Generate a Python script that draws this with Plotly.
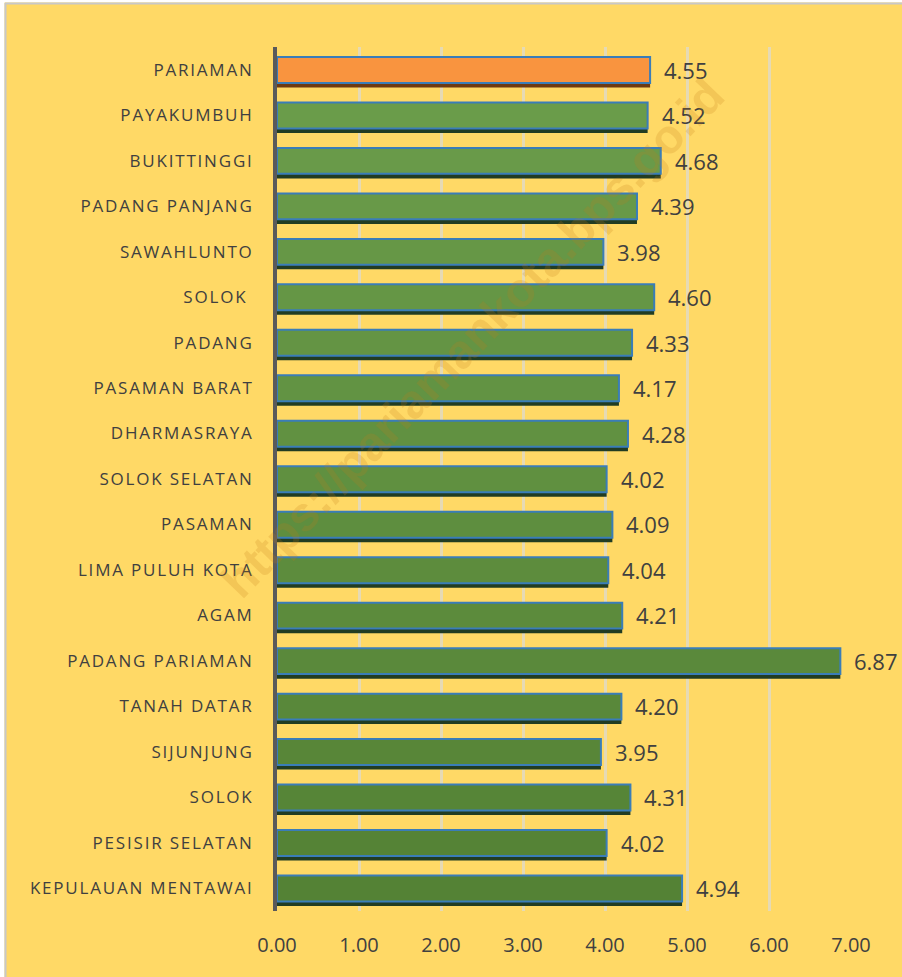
import plotly.graph_objects as go

categories = ["PARIAMAN", "PAYAKUMBUH", "BUKITTINGGI", "PADANG PANJANG", "SAWAHLUNTO",
              "SOLOK ", "PADANG", "PASAMAN BARAT", "DHARMASRAYA", "SOLOK SELATAN",
              "PASAMAN", "LIMA PULUH KOTA", "AGAM", "PADANG PARIAMAN", "TANAH DATAR",
              "SIJUNJUNG", "SOLOK", "PESISIR SELATAN", "KEPULAUAN MENTAWAI"]
values = [4.55, 4.52, 4.68, 4.39, 3.98, 4.60, 4.33, 4.17, 4.28, 4.02,
          4.09, 4.04, 4.21, 6.87, 4.20, 3.95, 4.31, 4.02, 4.94]
x_ticks = [0, 1, 2, 3, 4, 5, 6, 7]

# bottom-to-top order for the category axis
cats = categories[::-1]
vals = values[::-1]

n = len(cats)
bar_colors = []
shadow_colors = []
for i, c in enumerate(cats):
    if c == "PARIAMAN":
        bar_colors.append("#F9943F")
        shadow_colors.append("#6E3A12")
    else:
        t = i / (n - 1)
        r = int(0x54 + (0x6C - 0x54) * t)
        g = int(0x82 + (0x9E - 0x82) * t)
        b = int(0x35 + (0x4C - 0x35) * t)
        bar_colors.append(f"rgb({r},{g},{b})")
        shadow_colors.append("#213C22")

L, R, T, B = 277, 51, 47, 66
W, H = 902, 977
pw, ph = W - L - R, H - T - B


def px_x(p):
    return (p - L) / pw


def px_y(p):
    return (H - B - p) / ph


fig = go.Figure()
fig.add_trace(go.Bar(
    y=cats, x=vals, orientation="h",
    width=0.57, offset=-0.39,
    marker=dict(color=shadow_colors, line=dict(width=0)),
    hoverinfo="skip", showlegend=False,
))
fig.add_trace(go.Bar(
    y=cats, x=vals, orientation="h",
    width=0.57, offset=-0.29,
    marker=dict(color=bar_colors, line=dict(color="#3A7DB8", width=2)),
    showlegend=False,
))

for c, v in zip(cats, vals):
    fig.add_annotation(x=v, y=c, text=f"{v:.2f}", xanchor="left", yanchor="middle",
                       xshift=12, showarrow=False,
                       font=dict(family="Open Sans, sans-serif", size=22, color="#404040"))

fig.add_annotation(
    text="https://pariamankota.bps.go.id", xref="paper", yref="paper",
    x=px_x(472), y=px_y(338), textangle=-46, showarrow=False,
    font=dict(family="Liberation Sans, Arial, sans-serif", size=48, weight="bold",
              color="rgba(195,125,25,0.2)"),
)

# outer white strips and grey frame lines (the chart border)
fig.add_shape(type="rect", xref="paper", yref="paper", layer="above",
              x0=px_x(0), x1=px_x(4.5), y0=px_y(H), y1=px_y(0),
              fillcolor="white", line=dict(width=0))
fig.add_shape(type="rect", xref="paper", yref="paper", layer="above",
              x0=px_x(0), x1=px_x(W), y0=px_y(2.5), y1=px_y(0),
              fillcolor="white", line=dict(width=0))
fig.add_shape(type="line", xref="paper", yref="paper", layer="above",
              x0=px_x(5.5), x1=px_x(5.5), y0=px_y(H), y1=px_y(3),
              line=dict(color="#C8C8C8", width=2))
fig.add_shape(type="line", xref="paper", yref="paper", layer="above",
              x0=px_x(5), x1=px_x(W), y0=px_y(3.5), y1=px_y(3.5),
              line=dict(color="#C8C8C8", width=2))

fig.update_layout(
    width=W, height=H,
    margin=dict(l=L, r=R, t=T, b=B),
    paper_bgcolor="#FFD966", plot_bgcolor="#FFD966",
    barmode="overlay",
    xaxis=dict(range=[0, 7], tickvals=x_ticks, tickformat=".2f",
               showgrid=True, gridcolor="#E6DAB4", gridwidth=3, zeroline=False,
               showline=False, ticks="", ticklabelstandoff=20,
               tickfont=dict(family="Open Sans, sans-serif", size=20, color="#404040")),
    yaxis=dict(categoryorder="array", categoryarray=cats, showgrid=False,
               showline=True, linecolor="#5A5A5A", linewidth=4, ticks="",
               ticklabelstandoff=16,
               tickfont=dict(family="Open Sans, sans-serif", size=17, color="#404040")),
)

post = ("document.body.style.margin='0';"
        "var s=document.createElement('style');"
        "s.textContent='.ytick text{letter-spacing:1.8px;}';"
        "document.head.appendChild(s);")
fig.write_html("out.html", post_script=post,
               config={"responsive": False, "displayModeBar": False})
